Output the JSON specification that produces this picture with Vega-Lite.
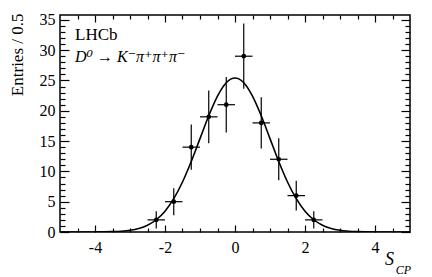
{
  "$schema": "https://vega.github.io/schema/vega-lite/v6.json",
  "width": 350,
  "height": 217,
  "autosize": "none",
  "padding": {"left": 60, "top": 15, "right": 22, "bottom": 45},
  "background": "white",
  "config": {
    "font": "Liberation Serif, Times New Roman, DejaVu Serif, serif",
    "view": {"stroke": "black", "strokeWidth": 1.5},
    "text": {"font": "Liberation Serif, Times New Roman, DejaVu Serif, serif"},
    "axis": {"domain": false, "grid": false, "tickColor": "black", "tickWidth": 1.2, "labelColor": "black", "labelFont": "Liberation Serif, Times New Roman, DejaVu Serif, serif", "labelFontSize": 16, "titleFont": "Liberation Serif, Times New Roman, DejaVu Serif, serif", "titleColor": "black", "titleFontWeight": "normal", "labelOverlap": false}
  },
  "datasets": {
    "points": [
      {"x": -2.25, "n": 2, "lo": 0.586, "hi": 3.414, "xlo": -2.5, "xhi": -2.0},
      {"x": -1.75, "n": 5, "lo": 2.764, "hi": 7.236, "xlo": -2.0, "xhi": -1.5},
      {"x": -1.25, "n": 14, "lo": 10.258, "hi": 17.742, "xlo": -1.5, "xhi": -1.0},
      {"x": -0.75, "n": 19, "lo": 14.641, "hi": 23.359, "xlo": -1.0, "xhi": -0.5},
      {"x": -0.25, "n": 21, "lo": 16.417, "hi": 25.583, "xlo": -0.5, "xhi": 0.0},
      {"x": 0.25, "n": 29, "lo": 23.615, "hi": 34.385, "xlo": 0.0, "xhi": 0.5},
      {"x": 0.75, "n": 18, "lo": 13.757, "hi": 22.243, "xlo": 0.5, "xhi": 1.0},
      {"x": 1.25, "n": 12, "lo": 8.536, "hi": 15.464, "xlo": 1.0, "xhi": 1.5},
      {"x": 1.75, "n": 6, "lo": 3.551, "hi": 8.449, "xlo": 1.5, "xhi": 2.0},
      {"x": 2.25, "n": 2, "lo": 0.586, "hi": 3.414, "xlo": 2.0, "xhi": 2.5}
    ],
    "curve": [
      {"x": -5.0, "y": 0.0}, {"x": -4.75, "y": 0.0003}, {"x": -4.5, "y": 0.001}, {"x": -4.25, "y": 0.003},
      {"x": -4.0, "y": 0.0085}, {"x": -3.75, "y": 0.0225}, {"x": -3.5, "y": 0.0556}, {"x": -3.25, "y": 0.129},
      {"x": -3.0, "y": 0.282}, {"x": -2.75, "y": 0.579}, {"x": -2.5, "y": 1.116}, {"x": -2.25, "y": 2.021},
      {"x": -2.0, "y": 3.438}, {"x": -1.75, "y": 5.493}, {"x": -1.5, "y": 8.246}, {"x": -1.25, "y": 11.629},
      {"x": -1.0, "y": 15.406}, {"x": -0.75, "y": 19.173}, {"x": -0.5, "y": 22.416}, {"x": -0.25, "y": 24.618},
      {"x": 0.0, "y": 25.4},
      {"x": 0.25, "y": 24.618}, {"x": 0.5, "y": 22.416}, {"x": 0.75, "y": 19.173}, {"x": 1.0, "y": 15.406},
      {"x": 1.25, "y": 11.629}, {"x": 1.5, "y": 8.246}, {"x": 1.75, "y": 5.493}, {"x": 2.0, "y": 3.438},
      {"x": 2.25, "y": 2.021}, {"x": 2.5, "y": 1.116}, {"x": 2.75, "y": 0.579}, {"x": 3.0, "y": 0.282},
      {"x": 3.25, "y": 0.129}, {"x": 3.5, "y": 0.0556}, {"x": 3.75, "y": 0.0225}, {"x": 4.0, "y": 0.0085},
      {"x": 4.25, "y": 0.003}, {"x": 4.5, "y": 0.001}, {"x": 4.75, "y": 0.0003}, {"x": 5.0, "y": 0.0}
    ]
  },
  "layer": [
    {
      "data": {"name": "curve"},
      "mark": {"type": "line", "color": "black", "strokeWidth": 1.6, "interpolate": "monotone", "clip": true},
      "encoding": {
        "x": {"field": "x", "type": "quantitative",
          "scale": {"domain": [-5, 5], "nice": false, "zero": false},
          "axis": {"orient": "bottom", "ticks": false, "values": [-4, -2, 0, 2, 4], "labelExpr": "'' + datum.value", "labelPadding": 7, "labelFlush": false, "title": null}},
        "y": {"field": "y", "type": "quantitative",
          "scale": {"domain": [0, 35.8], "nice": false, "zero": true},
          "axis": {"orient": "left", "ticks": false, "values": [0, 5, 10, 15, 20, 25, 30, 35], "labelPadding": 5, "labelFlush": false,
            "title": "Entries / 0.5", "titleFontSize": 17, "titleAngle": -90, "titleAlign": "right", "titleBaseline": "middle", "titleX": -43, "titleY": -2}}
      }
    },
    {
      "data": {"name": "points"},
      "mark": {"type": "rule", "color": "black", "strokeWidth": 1.2},
      "encoding": {
        "x": {"field": "x", "type": "quantitative",
          "axis": {"orient": "bottom", "labels": false, "tickSize": -7, "values": [-4, -2, 0, 2, 4], "title": null}},
        "y": {"field": "lo", "type": "quantitative",
          "axis": {"orient": "left", "labels": false, "tickSize": -9, "values": [0, 5, 10, 15, 20, 25, 30, 35], "title": null}},
        "y2": {"field": "hi"}
      }
    },
    {
      "data": {"name": "points"},
      "mark": {"type": "rule", "color": "black", "strokeWidth": 1.2},
      "encoding": {
        "x": {"field": "xlo", "type": "quantitative",
          "axis": {"orient": "bottom", "labels": false, "tickSize": -4, "values": [-4.5, -3.5, -3, -2.5, -1.5, -1, -0.5, 0.5, 1, 1.5, 2.5, 3, 3.5, 4.5], "title": null}},
        "x2": {"field": "xhi"},
        "y": {"field": "n", "type": "quantitative",
          "axis": {"orient": "left", "labels": false, "tickSize": -5, "values": [1, 2, 3, 4, 6, 7, 8, 9, 11, 12, 13, 14, 16, 17, 18, 19, 21, 22, 23, 24, 26, 27, 28, 29, 31, 32, 33, 34], "title": null}}
      }
    },
    {
      "data": {"name": "points"},
      "mark": {"type": "point", "shape": "circle", "filled": true, "color": "black", "opacity": 1, "size": 22},
      "encoding": {
        "x": {"field": "x", "type": "quantitative",
          "axis": {"orient": "top", "labels": false, "tickSize": -7, "values": [-4, -2, 0, 2, 4], "title": null}},
        "y": {"field": "n", "type": "quantitative",
          "axis": {"orient": "right", "labels": false, "tickSize": -9, "values": [0, 5, 10, 15, 20, 25, 30, 35], "title": null}}
      }
    },
    {
      "data": {"values": [{"x": -4.571, "y": 31.7, "t": "LHCb"}]},
      "mark": {"type": "text", "align": "left", "baseline": "alphabetic", "fontSize": 17, "color": "black"},
      "encoding": {
        "x": {"field": "x", "type": "quantitative",
          "axis": {"orient": "top", "labels": false, "tickSize": -4, "values": [-4.5, -3.5, -3, -2.5, -1.5, -1, -0.5, 0.5, 1, 1.5, 2.5, 3, 3.5, 4.5], "title": null}},
        "y": {"field": "y", "type": "quantitative",
          "axis": {"orient": "right", "labels": false, "tickSize": -5, "values": [1, 2, 3, 4, 6, 7, 8, 9, 11, 12, 13, 14, 16, 17, 18, 19, 21, 22, 23, 24, 26, 27, 28, 29, 31, 32, 33, 34], "title": null}},
        "text": {"field": "t"}
      }
    },
    {
      "data": {"values": [{"x": -4.571, "y": 28.1, "t": "D⁰ → K⁻π⁺π⁺π⁻"}]},
      "mark": {"type": "text", "align": "left", "baseline": "alphabetic", "fontSize": 16, "fontStyle": "italic", "color": "black"},
      "encoding": {
        "x": {"field": "x", "type": "quantitative", "axis": null},
        "y": {"field": "y", "type": "quantitative", "axis": null},
        "text": {"field": "t"}
      }
    },
    {
      "data": {"values": [{"x": 4.286, "y": -5.45, "t": "S"}]},
      "mark": {"type": "text", "align": "left", "baseline": "alphabetic", "fontSize": 18, "fontStyle": "italic", "color": "black"},
      "encoding": {
        "x": {"field": "x", "type": "quantitative", "axis": null},
        "y": {"field": "y", "type": "quantitative", "axis": null},
        "text": {"field": "t"}
      }
    },
    {
      "data": {"values": [{"x": 4.59, "y": -7.0, "t": "CP"}]},
      "mark": {"type": "text", "align": "left", "baseline": "alphabetic", "fontSize": 12, "fontStyle": "italic", "color": "black"},
      "encoding": {
        "x": {"field": "x", "type": "quantitative", "axis": null},
        "y": {"field": "y", "type": "quantitative", "axis": null},
        "text": {"field": "t"}
      }
    }
  ]
}
